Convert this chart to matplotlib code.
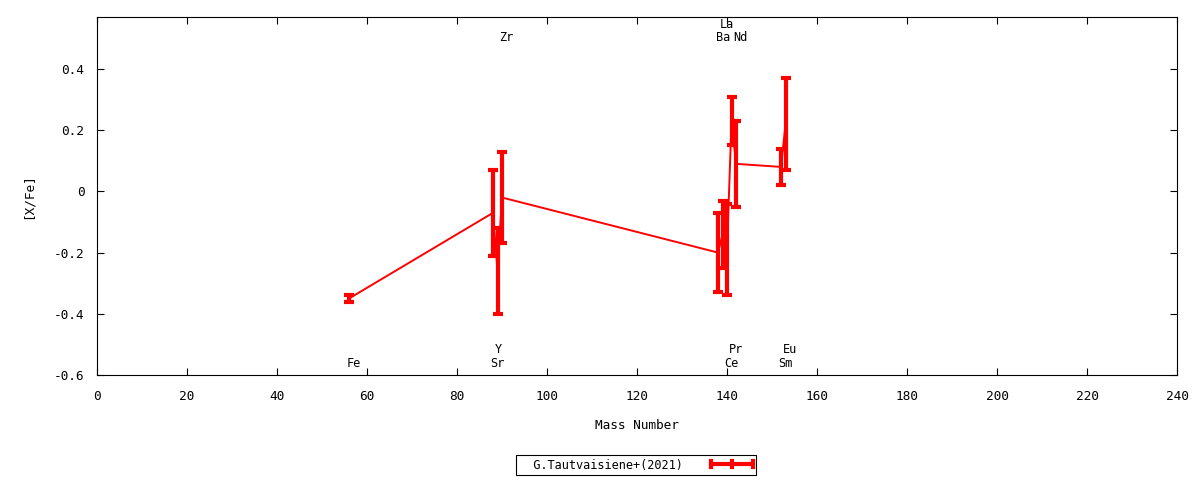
import matplotlib
matplotlib.use('Agg')
import matplotlib.pyplot as plt
from matplotlib.lines import Line2D
from matplotlib.legend_handler import HandlerBase

plt.rcParams['font.family'] = ['DejaVu Sans Mono']
plt.rcParams['font.size'] = 9.2

# 元素, 质量数, [X/Fe] 及误差
elements = ['Fe', 'Sr', 'Y', 'Zr', 'Ba', 'La', 'Ce', 'Pr', 'Nd', 'Sm', 'Eu']
mass = [56, 88, 89, 90, 138, 139, 140, 141, 142, 152, 153]
xfe = [-0.35, -0.07, -0.26, -0.02, -0.20, -0.14, -0.19, 0.23, 0.09, 0.08, 0.22]
err = [0.01, 0.14, 0.14, 0.15, 0.13, 0.11, 0.15, 0.08, 0.14, 0.06, 0.15]
label_row = ['b0', 'b0', 'b1', 't0', 't0', 't1', 'b0', 'b1', 't0', 'b0', 'b1']
legend_name = 'G.Tautvaisiene+(2021)'

row_y = {'b0': -0.564, 'b1': -0.516, 't0': 0.503, 't1': 0.545}


class GnuErrHandler(HandlerBase):
    '''gnuplot 风格的图例样本: 横线 + 三个竖短线'''
    def create_artists(self, legend, orig_handle, xdescent, ydescent,
                       width, height, fontsize, trans):
        yc = height / 2 - ydescent
        h = 0.35 * height
        arts = [Line2D([-xdescent, width - xdescent], [yc, yc], color='#ff0000', lw=3)]
        for xx in [-xdescent, width / 2 - xdescent, width - xdescent]:
            arts.append(Line2D([xx, xx], [yc - h, yc + h], color='#ff0000', lw=3))
        for a in arts:
            a.set_transform(trans)
        return arts


fig = plt.figure(figsize=(12, 4.8), dpi=100)
ax = fig.add_axes([0.0808, 0.21875, 0.9001, 0.7459])

eb = ax.errorbar(mass, xfe, yerr=err, color='#ff0000', lw=1.4, elinewidth=3,
                 capsize=3.6, capthick=3)

for el, m, r in zip(elements, mass, label_row):
    ax.text(m - 0.55, row_y[r], el, ha='left', va='center', fontsize=8.6)

ax.set_xlim(0, 240)
ax.set_ylim(-0.6, 0.57)
ax.set_xticks(range(0, 241, 20))
yt = [-0.6, -0.4, -0.2, 0, 0.2, 0.4]
ax.set_yticks(yt)
ax.set_yticklabels(['-0.6', '-0.4', '-0.2', '0', '0.2', '0.4'])
ax.tick_params(direction='in', top=True, right=True, length=5, width=0.8)
ax.tick_params(axis='y', pad=9)
ax.tick_params(axis='x', pad=11)
ax.set_xlabel('Mass Number', labelpad=11)
ax.set_ylabel('[X/Fe]', labelpad=14)

leg = ax.legend([eb], ['  ' + legend_name], handler_map={type(eb): GnuErrHandler()},
                loc='upper center', bbox_to_anchor=(0.499, -0.2235), markerfirst=False,
                fancybox=False, edgecolor='black', framealpha=1, borderpad=0.3,
                handlelength=3.5, handletextpad=2.3, borderaxespad=0,
                prop={'size': 8.6})
leg.get_frame().set_linewidth(0.8)

fig.savefig('out.png', dpi=100)
